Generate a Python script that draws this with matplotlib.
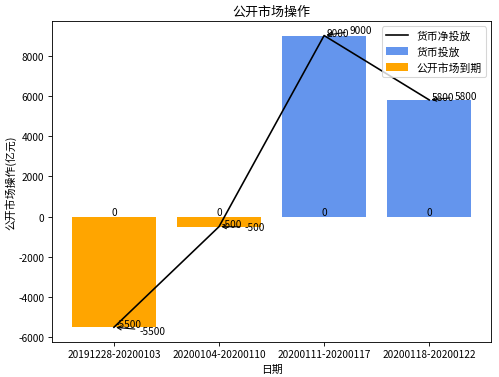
import numpy as np
import matplotlib
matplotlib.use("Agg")
import matplotlib.pyplot as plt

plt.rcParams['font.family'] = ['Noto Sans CJK SC', 'DejaVu Sans']
plt.rcParams['axes.unicode_minus'] = False

# 数据
periods = ["20191228-20200103", "20200104-20200110",
           "20200111-20200117", "20200118-20200122"]
injection = [0, 0, 9000, 5800]        # 货币投放
maturity = [-5500, -500, 0, 0]        # 公开市场到期
net_injection = [-5500, -500, 9000, 5800]  # 货币净投放

x = np.arange(len(periods))
fs_num = 9.3

fig = plt.figure(figsize=(6.4, 4.846), dpi=78)
ax = fig.add_subplot(111)
fig.subplots_adjust(left=0.104, right=0.984, top=0.942, bottom=0.093)

b1 = ax.bar(x, injection, width=0.8, color='cornflowerblue', label='货币投放')
b2 = ax.bar(x, maturity, width=0.8, color='orange', label='公开市场到期')
line, = ax.plot(x, net_injection, color='black', label='货币净投放')

# 柱子上的 0 标签
for i in x:
    ax.text(i, 0, '0', ha='center', va='bottom', fontsize=fs_num)

# 净投放点的标签 + 箭头注释
for i, v in zip(x, net_injection):
    ax.text(i + 0.02, v, str(v), ha='left', va='baseline', fontsize=fs_num)
    ax.annotate(str(v), xy=(i, v), xytext=(i + 0.24, v * 1.03),
                va='center', fontsize=fs_num,
                arrowprops=dict(arrowstyle='->', color='black'))

ax.set_xticks(x)
ax.set_xticklabels(periods)
ax.tick_params(labelsize=fs_num)
ax.set_title('公开市场操作')
ax.set_xlabel('日期')
ax.set_ylabel('公开市场操作(亿元)', labelpad=2)
ax.legend(handles=[line, b1, b2], loc='upper right')

plt.savefig('out.png', dpi=78)
plt.close(fig)
